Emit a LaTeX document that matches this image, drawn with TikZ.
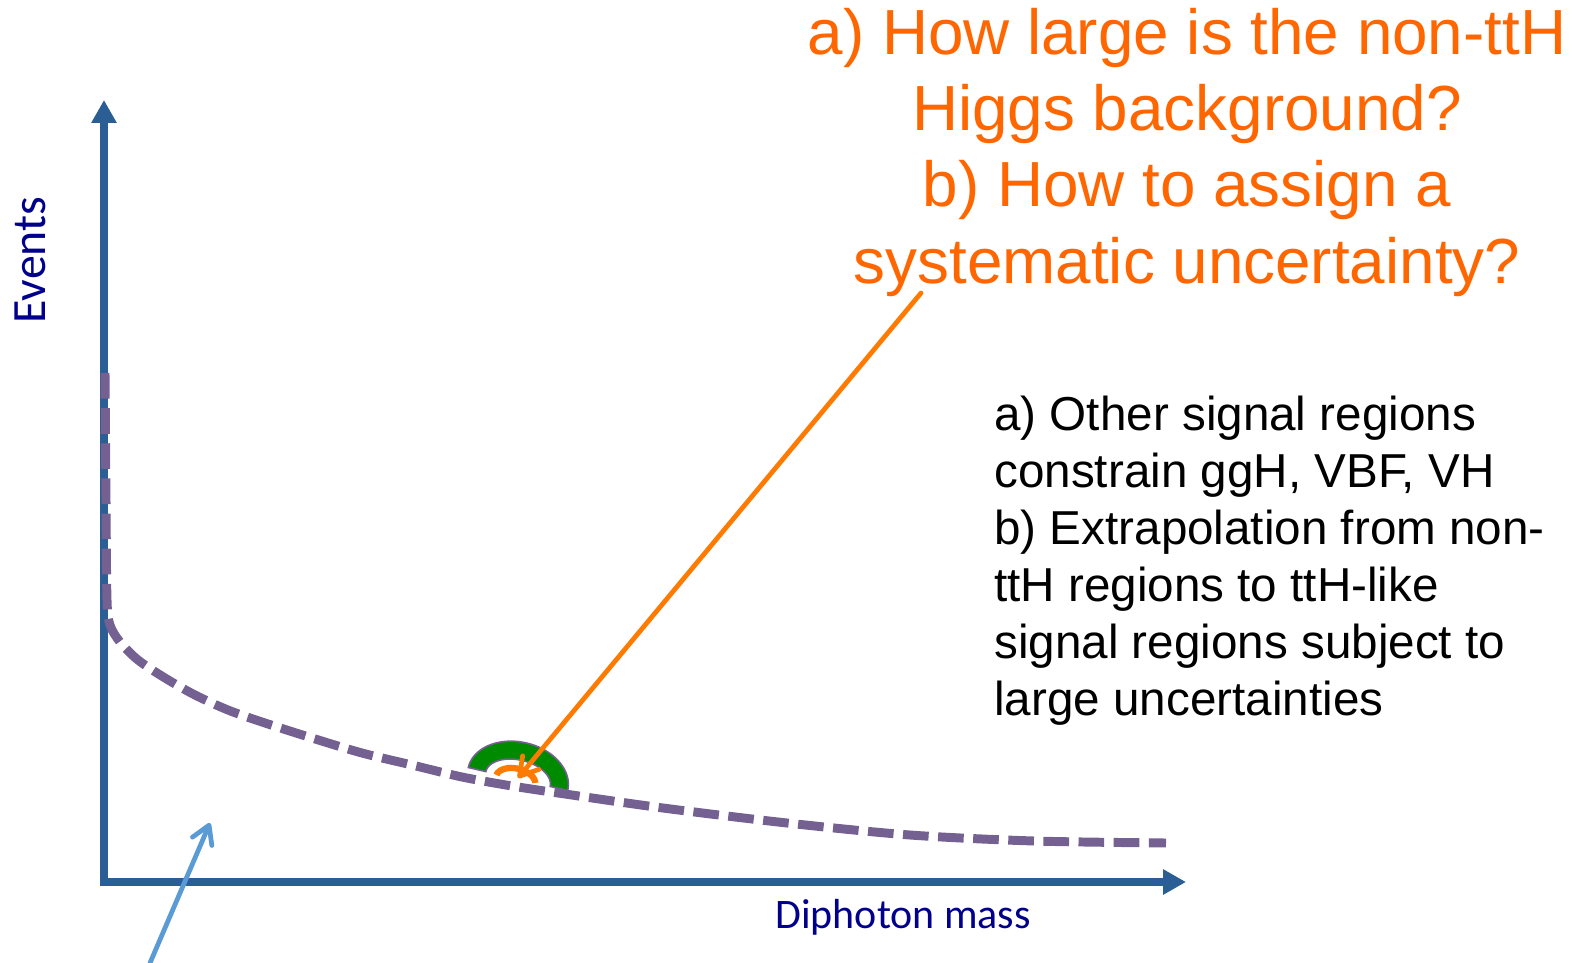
\documentclass[tikz,border=0pt]{standalone}
\usepackage{fontspec}
\setmainfont{Liberation Sans}
\newfontfamily\calibrifont{Carlito}
\usetikzlibrary{arrows.meta}
\definecolor{axisblue}{RGB}{42,94,148}
\definecolor{curvepurple}{RGB}{116,96,145}
\definecolor{qorange}{RGB}{255,102,0}
\definecolor{arroworange}{RGB}{255,122,0}
\definecolor{lightblue}{RGB}{91,155,213}
\definecolor{labelnavy}{RGB}{0,0,140}
\definecolor{bumpgreen}{RGB}{0,138,0}
\begin{document}
\begin{tikzpicture}[x=0.02cm,y=-0.02cm,
  axisline/.style={draw=axisblue,line width=4.5pt,line join=miter,
    arrows={Triangle[length=13pt,width=13.6pt]-Triangle[length=13pt,width=13.6pt]}},
  bgcurve/.style={draw=curvepurple,line width=5.1pt,dash pattern=on 14.6pt off 5.4pt},
  pointer/.style={line width=2.7pt,line cap=round,arrows={-Straight Barb[length=10pt,width=12pt,round]}},
  question/.style={anchor=base,inner sep=0pt,text=qorange,font=\fontsize{36.3}{43}\selectfont},
  answer/.style={anchor=base west,inner sep=0pt,text=black,font=\fontsize{27.1}{32}\selectfont},
  axislabel/.style={inner sep=0pt,text=labelnavy}]
\useasboundingbox (0,0) rectangle (1583,963);

% coordinates
\coordinate (origin) at (104,882);
\coordinate (ytip) at (104,100);
\coordinate (xtip) at (1186,882);
\coordinate (qstart) at (921,293);
\coordinate (bumptip) at (518,778);
\coordinate (bstart) at (150,963);
\coordinate (btip) at (210,823);

% axes
\draw[axisline] (ytip) -- (origin) -- (xtip);

% background curve
\draw[bgcurve] plot[smooth,tension=0.5] coordinates {
  (105,373) (106,500) (107,600) (110,625) (120,642) (138,660) (165,678)
  (195,695) (228,710) (262,722) (312,738) (362,753) (412,765) (462,777)
  (512,786) (565,794) (663,808) (787,823) (910,835) (1034,841) (1166,843)};

% signal bump
\begin{scope}[shift={(518,779)},rotate=-13]
  \filldraw[fill=bumpgreen,draw=curvepurple,line width=0.9pt]
    plot[domain=180:0,samples=60] ({51*cos(\x)},{-37*sin(\x)})
    -- plot[domain=0:180,samples=40] ({33*cos(\x)},{-19*sin(\x)}) -- cycle;
  \draw[arroworange,line width=3.6pt]
    plot[domain=175:10,samples=40] ({-2+20*cos(\x)},{2-12*sin(\x)});
\end{scope}

% arrows
\draw[pointer,arroworange] (qstart) -- (bumptip);
\draw[pointer,lightblue] (bstart) -- (btip);

% axis labels
\node[axislabel,rotate=90,anchor=base,font=\calibrifont\fontsize{27.2}{32}\selectfont] (events) at (45,260) {Events};
\node[axislabel,anchor=base west,font=\calibrifont\fontsize{23.9}{28}\selectfont] (xlabel) at (775,928) {Diphoton mass};

% question
\node[question] (q1) at (1187,55) {a) How large is the non-ttH};
\node[question] (q2) at (1187,131) {Higgs background?};
\node[question] (q3) at (1187,207) {b) How to assign a};
\node[question] (q4) at (1187,283) {systematic uncertainty?};

% answer
\node[answer] (a1) at (994,430) {a) Other signal regions};
\node[answer] (a2) at (994,487) {constrain ggH, VBF, VH};
\node[answer] (a3) at (994,544) {b) Extrapolation from non-};
\node[answer] (a4) at (994,601) {ttH regions to ttH-like};
\node[answer] (a5) at (994,658) {signal regions subject to};
\node[answer] (a6) at (994,715) {large uncertainties};
\end{tikzpicture}
\end{document}
